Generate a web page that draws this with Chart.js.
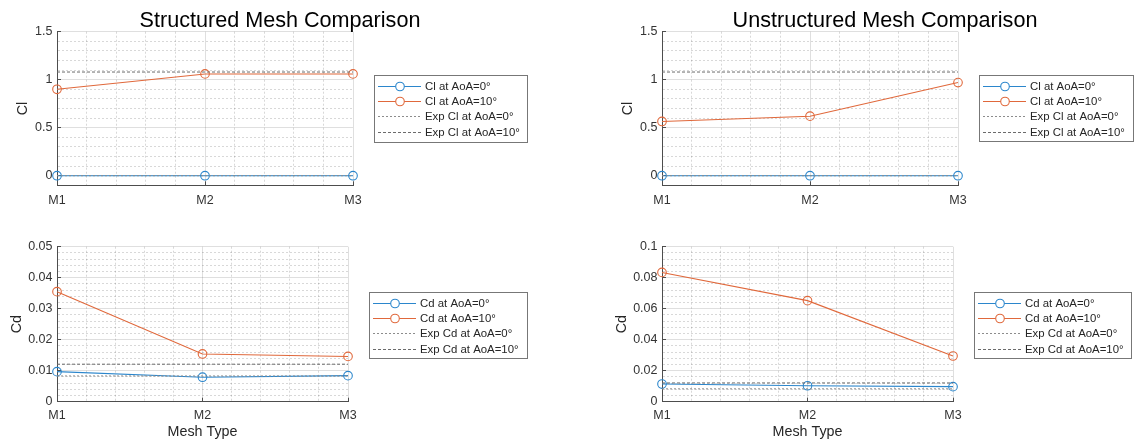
<!DOCTYPE html>
<html><head><meta charset="utf-8">
<script src="https://cdn.jsdelivr.net/npm/chart.js@4"></script>
<style>
html,body{margin:0;padding:0;background:#fff;overflow:hidden;}
#wrap{position:relative;width:1135px;height:441px;background:#fff;}
canvas{position:absolute;left:0;top:0;}
</style></head><body>
<div id="wrap">
<canvas id="c1" width="1135" height="441"></canvas>
<canvas id="c2" width="1135" height="441"></canvas>
<canvas id="c3" width="1135" height="441"></canvas>
<canvas id="c4" width="1135" height="441"></canvas>
</div>
<script>
// ---------- data ----------
const meshLabels = ['M1', 'M2', 'M3'];
const meshX = [1, 2, 3];

const structuredCl0 = [0, 0, 0];
const structuredCl10 = [0.90, 1.06, 1.06];
const structuredCd0 = [0.0097, 0.0079, 0.0084];
const structuredCd10 = [0.0355, 0.0154, 0.0146];

const unstructuredCl0 = [0, 0, 0];
const unstructuredCl10 = [0.565, 0.62, 0.97];
const unstructuredCd0 = [0.0114, 0.0103, 0.0097];
const unstructuredCd10 = [0.0834, 0.0652, 0.0295];

const expCl = [0, 1.08];        // AoA=0°, AoA=10°
const expCd = [0.0083, 0.0121]; // AoA=0°, AoA=10°

const clTickLabels = [0, 0.5, 1, 1.5];
const structuredCdTickLabels = [0, 0.01, 0.02, 0.03, 0.04, 0.05];
const unstructuredCdTickLabels = [0, 0.02, 0.04, 0.06, 0.08, 0.1];

// ---------- styling ----------
const FONT = '"Liberation Sans", Arial, Helvetica, sans-serif';
Chart.defaults.font.family = FONT;
const BLUE = '#2b86cc';
const ORANGE = '#e0683b';
const EXP0 = '#8c8c8c';
const EXP10 = '#6b6b6b';
const AXIS = '#4d4d4d';
const GRID_MAJOR = 'rgba(38,38,38,0.15)';
const GRID_MINOR = 'rgba(38,38,38,0.18)';

function series(label, ys, color) {
  return {
    label, data: meshX.map((x, i) => ({x, y: ys[i]})),
    borderColor: color, backgroundColor: 'rgba(0,0,0,0)', borderWidth: 1.1,
    pointRadius: 4.3, pointHoverRadius: 4.3, pointBorderWidth: 1.1,
    pointBackgroundColor: 'rgba(0,0,0,0)', pointBorderColor: color,
    clip: false, order: 1, tension: 0
  };
}
function expLine(label, y, color, dash) {
  return {
    label, data: [{x: meshX[0], y}, {x: meshX[meshX.length - 1], y}],
    borderColor: color, backgroundColor: 'rgba(0,0,0,0)', borderWidth: 1,
    borderDash: dash, pointRadius: 0, pointHoverRadius: 0, clip: false, order: 0
  };
}

const decor = {
  id: 'decor',
  afterDraw(chart, args, opts) {
    const ctx = chart.ctx, a = chart.chartArea;
    ctx.save();
    if (opts.title) {
      ctx.font = '21.6px ' + FONT; ctx.fillStyle = '#000';
      ctx.textAlign = 'center'; ctx.textBaseline = 'alphabetic';
      ctx.fillText(opts.title, a.left + opts.titleDx, opts.titleY);
    }
    const b = opts.box;
    ctx.fillStyle = '#fff'; ctx.fillRect(b.x, b.y, b.w, b.h);
    ctx.strokeStyle = '#777'; ctx.lineWidth = 1; ctx.setLineDash([]);
    ctx.strokeRect(Math.round(b.x) + 0.5, Math.round(b.y) + 0.5, Math.round(b.w), Math.round(b.h));
    chart.data.datasets.forEach((ds, i) => {
      const y = Math.round(b.y + 11 + i * 15.2) + 0.5;
      ctx.strokeStyle = ds.borderColor; ctx.lineWidth = ds.borderWidth;
      ctx.setLineDash(ds.borderDash || []);
      ctx.beginPath(); ctx.moveTo(b.x + 4, y); ctx.lineTo(b.x + 47, y); ctx.stroke();
      ctx.setLineDash([]);
      if (ds.pointRadius > 0) {
        ctx.beginPath(); ctx.arc(b.x + 26, y, ds.pointRadius, 0, Math.PI * 2);
        ctx.fillStyle = '#fff'; ctx.fill();
        ctx.strokeStyle = ds.pointBorderColor; ctx.lineWidth = ds.pointBorderWidth; ctx.stroke();
      }
      ctx.fillStyle = '#262626'; ctx.font = '11.4px ' + FONT;
      ctx.textAlign = 'left'; ctx.textBaseline = 'middle';
      ctx.fillText(ds.label, b.x + 51, y + 0.5);
    });
    ctx.restore();
  }
};

function near(v, list) { return list.some(t => Math.abs(v - t) < 1e-9); }
function isInt(v) { return Math.abs(v - Math.round(v)) < 1e-6; }

function makeChart(id, cfg) {
  const yMajor = v => near(v, cfg.yLabels);
  return new Chart(document.getElementById(id), {
    type: 'line',
    data: {datasets: cfg.datasets},
    plugins: [decor],
    options: {
      responsive: false, animation: false, devicePixelRatio: 1, events: [],
      layout: {padding: cfg.pad},
      plugins: {
        legend: {display: false}, tooltip: {enabled: false},
        decor: {title: cfg.title, titleDx: 223, titleY: 27, box: cfg.box}
      },
      scales: {
        x: {
          type: 'linear', min: 1, max: 3,
          afterFit(s) { s.height = cfg.xh; },
          ticks: {
            stepSize: 0.2, autoSkip: false, maxRotation: 0, minRotation: 0, padding: cfg.xpad,
            color: '#333', font: {size: 12.5},
            callback(v) { return isInt(v) ? meshLabels[Math.round(v) - 1] : ''; }
          },
          grid: {
            color: c => (c.tick && !isInt(c.tick.value)) ? GRID_MINOR : GRID_MAJOR,
            lineWidth: 1, tickLength: -4, tickWidth: 1,
            tickColor: c => (c.tick && isInt(c.tick.value)) ? AXIS : 'rgba(0,0,0,0)'
          },
          border: {color: AXIS, width: 1, dash: c => (c.tick && !isInt(c.tick.value)) ? [2, 2] : []},
          title: cfg.xTitle ? {display: true, text: cfg.xTitle, color: '#262626', font: {size: 14.3}, padding: {top: 0, bottom: 0}} : {display: false}
        },
        y: {
          type: 'linear', min: cfg.ymin, max: cfg.ymax,
          afterFit(s) { s.width = 57; },
          ticks: {
            stepSize: cfg.ystep, maxTicksLimit: 1000, autoSkip: false, padding: 8.5,
            color: '#333', font: {size: 12.5},
            callback(v) { return yMajor(v) ? String(Math.round(v * 1e4) / 1e4) : ''; }
          },
          grid: {
            color: c => (c.tick && !yMajor(c.tick.value)) ? GRID_MINOR : GRID_MAJOR,
            lineWidth: 1, tickLength: -4, tickWidth: 1,
            tickColor: c => (c.tick && yMajor(c.tick.value)) ? AXIS : 'rgba(0,0,0,0)'
          },
          border: {color: AXIS, width: 1, dash: c => (c.tick && !yMajor(c.tick.value)) ? [2, 2] : []},
          title: {display: true, text: cfg.yTitle, color: '#262626', font: {size: 14.3}, padding: {top: cfg.ytp, bottom: 0}}
        }
      }
    }
  });
}

// Top-left: structured Cl
makeChart('c1', {
  title: 'Structured Mesh Comparison', yTitle: 'Cl', ytp: 14, xpad: 11.5,
  ymin: -0.1, ymax: 1.5, ystep: 0.1, yLabels: clTickLabels, xh: 30,
  pad: {left: 0, right: 1135 - 353, top: 31.7, bottom: 441 - 185.3 - 30},
  box: {x: 374, y: 75, w: 153, h: 67},
  datasets: [
    series('Cl at AoA=0°', structuredCl0, BLUE),
    series('Cl at AoA=10°', structuredCl10, ORANGE),
    expLine('Exp Cl at AoA=0°', expCl[0], EXP0, [2, 2]),
    expLine('Exp Cl at AoA=10°', expCl[1], EXP10, [3, 2])
  ]
});
// Bottom-left: structured Cd
makeChart('c2', {
  title: null, yTitle: 'Cd', ytp: 8.7, xTitle: 'Mesh Type', xpad: 10.5,
  ymin: 0, ymax: 0.05, ystep: 0.002, yLabels: structuredCdTickLabels, xh: 441 - 401.7,
  pad: {left: 0, right: 1135 - 348, top: 246.7, bottom: 0},
  box: {x: 369, y: 292, w: 158, h: 66},
  datasets: [
    series('Cd at AoA=0°', structuredCd0, BLUE),
    series('Cd at AoA=10°', structuredCd10, ORANGE),
    expLine('Exp Cd at AoA=0°', expCd[0], EXP0, [2, 2]),
    expLine('Exp Cd at AoA=10°', expCd[1], EXP10, [3, 2])
  ]
});
// Top-right: unstructured Cl
makeChart('c3', {
  title: 'Unstructured Mesh Comparison', yTitle: 'Cl', ytp: 14, xpad: 11.5,
  ymin: -0.1, ymax: 1.5, ystep: 0.1, yLabels: clTickLabels, xh: 30,
  pad: {left: 662 - 57, right: 1135 - 958, top: 31.7, bottom: 441 - 185.3 - 30},
  box: {x: 979, y: 75, w: 154, h: 66},
  datasets: [
    series('Cl at AoA=0°', unstructuredCl0, BLUE),
    series('Cl at AoA=10°', unstructuredCl10, ORANGE),
    expLine('Exp Cl at AoA=0°', expCl[0], EXP0, [2, 2]),
    expLine('Exp Cl at AoA=10°', expCl[1], EXP10, [3, 2])
  ]
});
// Bottom-right: unstructured Cd
makeChart('c4', {
  title: null, yTitle: 'Cd', ytp: 8.7, xTitle: 'Mesh Type', xpad: 10.5,
  ymin: 0, ymax: 0.1, ystep: 0.004, yLabels: unstructuredCdTickLabels, xh: 441 - 401.7,
  pad: {left: 662 - 57, right: 1135 - 953, top: 246.7, bottom: 0},
  box: {x: 974, y: 292, w: 157, h: 66},
  datasets: [
    series('Cd at AoA=0°', unstructuredCd0, BLUE),
    series('Cd at AoA=10°', unstructuredCd10, ORANGE),
    expLine('Exp Cd at AoA=0°', expCd[0], EXP0, [2, 2]),
    expLine('Exp Cd at AoA=10°', expCd[1], EXP10, [3, 2])
  ]
});
</script>
</body></html>
